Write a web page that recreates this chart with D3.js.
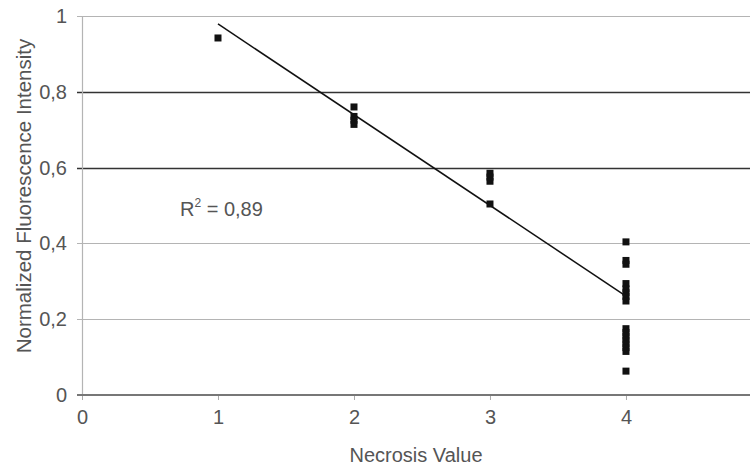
<!DOCTYPE html>
<html><head><meta charset="utf-8">
<script src="https://cdn.jsdelivr.net/npm/d3@7"></script>
<style>body{margin:0;background:#fff;} text{font-family:"Liberation Sans",Arial,sans-serif;}</style>
</head><body>
<svg id="c" width="750" height="466"></svg>
<script>
// Data
const necrosisX = [1, 2,2,2,2, 3,3,3,3, 4,4,4,4,4,4,4,4,4,4,4,4,4,4,4,4];
const intensityY = [0.942, 0.76,0.735,0.725,0.714, 0.585,0.575,0.564,0.504,
  0.404,0.355,0.345,0.294,0.28,0.27,0.26,0.248,0.175,0.165,0.155,0.145,0.135,0.125,0.115,0.063];
const trendX = [1, 4];
const trendY = [0.979, 0.261];
const xTicks = [0, 1, 2, 3, 4];
const yTicks = [0, 0.2, 0.4, 0.6, 0.8, 1];
const darkGrid = [0.6, 0.8];
const r2Label = "0,89";

const svg = d3.select("#c");
const x = d3.scaleLinear().domain([0, 4.912]).range([82, 750]);
const y = d3.scaleLinear().domain([0, 1]).range([395, 16]);
const fmt = d => d === 0 || d === 1 ? String(d) : String(d).replace(".", ",");

// gridlines
svg.append("g").selectAll("line").data(yTicks.filter(d => d > 0)).join("line")
  .attr("x1", 77).attr("x2", 750)
  .attr("y1", d => Math.round(y(d)) + 0.5).attr("y2", d => Math.round(y(d)) + 0.5)
  .attr("stroke", d => darkGrid.includes(d) ? "#333" : "#b4b4b4")
  .attr("stroke-width", d => darkGrid.includes(d) ? 1.4 : 1.2);

// y axis line
svg.append("line").attr("x1", 82.5).attr("x2", 82.5).attr("y1", y(1)).attr("y2", y(0))
  .attr("stroke", "#b4b4b4").attr("stroke-width", 1.2);

// x axis
const xAxis = d3.axisBottom(x).tickValues(xTicks).tickSize(5).tickPadding(10).tickFormat(d3.format("d"));
const gx = svg.append("g").attr("transform", `translate(0,${y(0)})`).call(xAxis);
gx.select(".domain").remove();
gx.selectAll(".tick line").attr("stroke", "#aaa");
gx.selectAll(".tick text").attr("font-size", 20).attr("fill", "#555")
  .attr("font-family", "Liberation Sans, Arial, sans-serif");
svg.append("line").attr("x1", 77).attr("x2", 750).attr("y1", y(0)).attr("y2", y(0))
  .attr("stroke", "#777").attr("stroke-width", 2);

// y axis labels
const yAxis = d3.axisLeft(y).tickValues(yTicks).tickSize(0).tickPadding(15).tickFormat(fmt);
const gy = svg.append("g").attr("transform", `translate(82,0)`).call(yAxis);
gy.select(".domain").remove();
gy.selectAll(".tick text").attr("font-size", 20).attr("fill", "#555")
  .attr("font-family", "Liberation Sans, Arial, sans-serif");

// trendline
svg.append("path").datum(trendX.map((d, i) => [d, trendY[i]]))
  .attr("d", d3.line().x(d => x(d[0])).y(d => y(d[1])))
  .attr("fill", "none").attr("stroke", "#111").attr("stroke-width", 1.5);

// points
const s = 7;
svg.append("g").selectAll("rect").data(intensityY.map((v, i) => [necrosisX[i], v])).join("rect")
  .attr("x", d => x(d[0]) - s / 2).attr("y", d => y(d[1]) - s / 2)
  .attr("width", s).attr("height", s).attr("fill", "#111");

// R2 label
const r2 = svg.append("text").attr("x", 180).attr("y", 216).attr("font-size", 20).attr("fill", "#555");
r2.append("tspan").text("R");
r2.append("tspan").attr("font-size", 12).attr("dy", -9).text("2");
r2.append("tspan").attr("dy", 9).text(" = " + r2Label);

// axis titles
svg.append("text").attr("x", 416).attr("y", 462).attr("text-anchor", "middle")
  .attr("font-size", 20).attr("fill", "#555").text("Necrosis Value");
svg.append("text").attr("transform", "translate(31,196) rotate(-90)").attr("text-anchor", "middle")
  .attr("font-size", 20.5).attr("fill", "#555").text("Normalized Fluorescence Intensity");
</script>
</body></html>
